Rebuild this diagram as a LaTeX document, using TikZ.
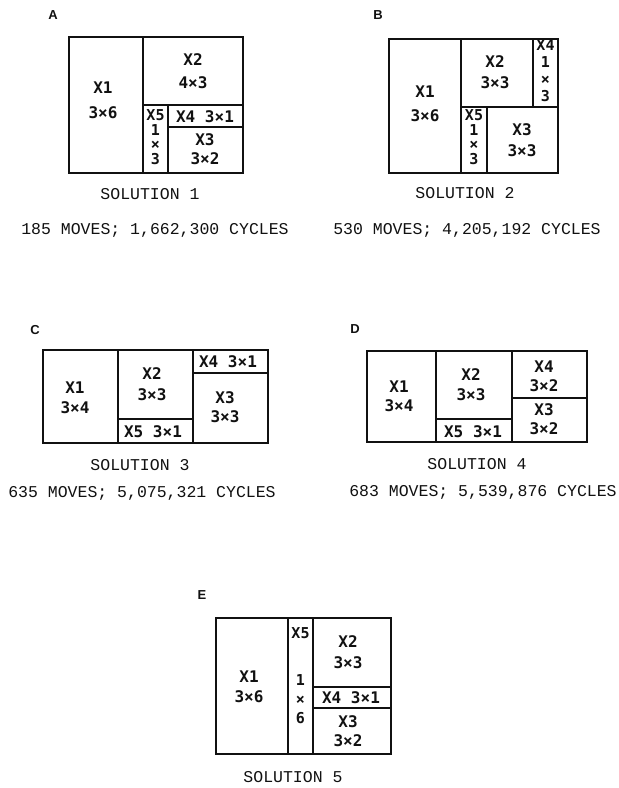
\documentclass[tikz,border=0pt]{standalone}
\usepackage{fontspec}
\usepackage{tikz}
\setmainfont{Liberation Mono}
\newfontfamily\piecefont{DejaVu Sans Mono}
\newfontfamily\letterfont{Liberation Sans}
\definecolor{inkblack}{HTML}{111111}
\tikzstyle{piece} = [draw=inkblack, line width=1.7pt]
\tikzstyle{lbl} = [text=inkblack, align=center, inner sep=0pt, font=\piecefont\bfseries\fontsize{16}{21}\selectfont]
\tikzstyle{slim} = [lbl, font=\piecefont\bfseries\fontsize{15}{14.5}\selectfont]
\tikzstyle{panelletter} = [text=inkblack, inner sep=0pt, font=\letterfont\bfseries\fontsize{13}{15}\selectfont]
\tikzstyle{capline} = [text=inkblack, inner sep=0pt, font=\fontsize{16.5}{18}\selectfont]

\begin{document}
\begin{tikzpicture}[x=1pt, y=-1pt]
    \useasboundingbox[fill=white] (0,0) rectangle (619,788);

    % Solution 1
    \node[panelletter] (la) at (53,15) {A};
    \draw[piece] (69,37) rectangle (243,173);
    \draw[piece] (143,37) -- (143,173);
    \draw[piece] (143,105) -- (243,105);
    \draw[piece] (168,105) -- (168,173);
    \draw[piece] (168,127) -- (243,127);
    \node[lbl, font=\piecefont\bfseries\fontsize{16}{25}\selectfont] (a1) at (103,100) {X1\\3×6};
    \node[lbl, font=\piecefont\bfseries\fontsize{16}{23}\selectfont] (a2) at (193,71) {X2\\4×3};
    \node[slim] (a5) at (155.5,137) {X5\\1\\×\\3};
    \node[lbl] (a4) at (205,117) {X4 3×1};
    \node[lbl, font=\piecefont\bfseries\fontsize{16}{19}\selectfont] (a3) at (205,149) {X3\\3×2};
    \node[capline] (s1) at (150,194) {SOLUTION 1};
    \node[capline] (m1) at (155,230) {185 MOVES; 1,662,300 CYCLES};

    % Solution 2
    \node[panelletter] (lb) at (378,15) {B};
    \draw[piece] (389,39) rectangle (558,173);
    \draw[piece] (461,39) -- (461,173);
    \draw[piece] (461,107) -- (558,107);
    \draw[piece] (533,39) -- (533,107);
    \draw[piece] (487,107) -- (487,173);
    \node[lbl, font=\piecefont\bfseries\fontsize{16}{24}\selectfont] (b1) at (425,104) {X1\\3×6};
    \node[lbl] (b2) at (495,72) {X2\\3×3};
    \node[slim, font=\piecefont\bfseries\fontsize{15}{17}\selectfont] (b4) at (545.5,71) {X4\\1\\×\\3};
    \node[slim] (b5) at (474,137) {X5\\1\\×\\3};
    \node[lbl] (b3) at (522,140) {X3\\3×3};
    \node[capline] (s2) at (465,193) {SOLUTION 2};
    \node[capline] (m2) at (467,230) {530 MOVES; 4,205,192 CYCLES};

    % Solution 3
    \node[panelletter] (lc) at (35,330) {C};
    \draw[piece] (43,350) rectangle (268,443);
    \draw[piece] (118,350) -- (118,443);
    \draw[piece] (193,350) -- (193,443);
    \draw[piece] (118,419) -- (193,419);
    \draw[piece] (193,373) -- (268,373);
    \node[lbl, font=\piecefont\bfseries\fontsize{16}{20}\selectfont] (c1) at (75,398) {X1\\3×4};
    \node[lbl, font=\piecefont\bfseries\fontsize{16}{21}\selectfont] (c2) at (152,384) {X2\\3×3};
    \node[lbl] (c5) at (153,432) {X5 3×1};
    \node[lbl] (c4) at (228,362) {X4 3×1};
    \node[lbl, font=\piecefont\bfseries\fontsize{16}{19}\selectfont] (c3) at (225,407) {X3\\3×3};
    \node[capline] (s3) at (140,465) {SOLUTION 3};
    \node[capline] (m3) at (142,493) {635 MOVES; 5,075,321 CYCLES};

    % Solution 4
    \node[panelletter] (ld) at (355,329) {D};
    \draw[piece] (367,351) rectangle (587,442);
    \draw[piece] (436,351) -- (436,442);
    \draw[piece] (512,351) -- (512,442);
    \draw[piece] (436,419) -- (512,419);
    \draw[piece] (512,398) -- (587,398);
    \node[lbl, font=\piecefont\bfseries\fontsize{16}{19}\selectfont] (d1) at (399,396) {X1\\3×4};
    \node[lbl, font=\piecefont\bfseries\fontsize{16}{20}\selectfont] (d2) at (471,385) {X2\\3×3};
    \node[lbl] (d5) at (473,432) {X5 3×1};
    \node[lbl, font=\piecefont\bfseries\fontsize{16}{19}\selectfont] (d4) at (544,376) {X4\\3×2};
    \node[lbl, font=\piecefont\bfseries\fontsize{16}{19}\selectfont] (d3) at (544,419) {X3\\3×2};
    \node[capline] (s4) at (477,464) {SOLUTION 4};
    \node[capline] (m4) at (483,492) {683 MOVES; 5,539,876 CYCLES};

    % Solution 5
    \node[panelletter] (le) at (202,595) {E};
    \draw[piece] (216,618) rectangle (391,754);
    \draw[piece] (288,618) -- (288,754);
    \draw[piece] (313,618) -- (313,754);
    \draw[piece] (313,687) -- (391,687);
    \draw[piece] (313,708) -- (391,708);
    \node[lbl, font=\piecefont\bfseries\fontsize{16}{20}\selectfont] (e1) at (249,687) {X1\\3×6};
    \node[slim] (e5) at (300.5,633) {X5};
    \node[slim, font=\piecefont\bfseries\fontsize{15}{19}\selectfont] (e5b) at (300.5,699) {1\\×\\6};
    \node[lbl] (e2) at (348,652) {X2\\3×3};
    \node[lbl] (e4) at (351,698) {X4 3×1};
    \node[lbl, font=\piecefont\bfseries\fontsize{16}{19}\selectfont] (e3) at (348,731) {X3\\3×2};
    \node[capline] (s5) at (293,777) {SOLUTION 5};
\end{tikzpicture}
\end{document}
